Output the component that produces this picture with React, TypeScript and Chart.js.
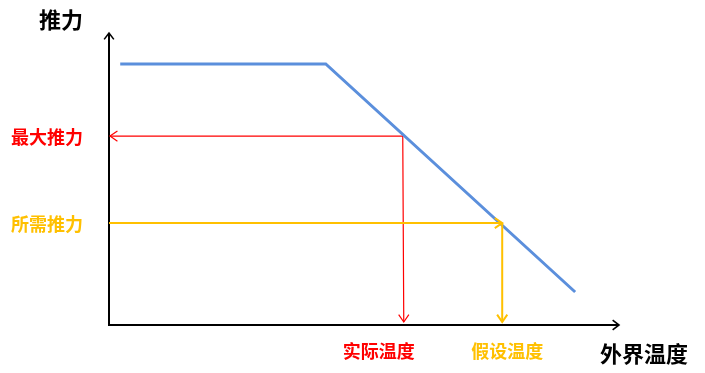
import React, { useEffect, useRef } from "react";
import { Chart, registerables } from "chart.js";

Chart.register(...registerables);

// Thrust curve (temperature → thrust), abstract 0..100 units
const curveTemps = [2.2, 42.5, 91.4];
const curveThrusts = [89.4, 89.4, 11.3];

// Guide values
const maxThrust = 64.7;
const actualTemp = 57.6;
const requiredThrust = 34.9;
const assumedTemp = 77.1;

// Labels
const yAxisTitle = "推力";
const xAxisTitle = "外界温度";
const maxThrustLabel = "最大推力";
const requiredThrustLabel = "所需推力";
const actualTempLabel = "实际温度";
const assumedTempLabel = "假设温度";

const BLUE = "#5B8FDC";
const RED = "#FF0000";
const YELLOW = "#FFC000";
const FONT = '"Noto Sans CJK SC", "Noto Sans", sans-serif';

function arrowHead(ctx: CanvasRenderingContext2D, x: number, y: number, angle: number, len: number, spread: number) {
  // angle: direction the arrow points to
  const a1 = angle + Math.PI - spread;
  const a2 = angle + Math.PI + spread;
  ctx.beginPath();
  ctx.moveTo(x + Math.cos(a1) * len, y + Math.sin(a1) * len);
  ctx.lineTo(x, y);
  ctx.lineTo(x + Math.cos(a2) * len, y + Math.sin(a2) * len);
  ctx.stroke();
}

const diagramPlugin = {
  id: "diagram",
  beforeDatasetsDraw(chart: any) {
    const ctx: CanvasRenderingContext2D = chart.ctx;
    const xs = chart.scales.x;
    const ys = chart.scales.y;
    const x0 = xs.getPixelForValue(0);
    const y0 = ys.getPixelForValue(0);
    const x1 = xs.getPixelForValue(100);
    const y1 = ys.getPixelForValue(100);
    ctx.save();
    ctx.lineCap = "butt";
    // axes
    ctx.strokeStyle = "#000";
    ctx.lineWidth = 2;
    ctx.beginPath();
    ctx.moveTo(x0, y1);
    ctx.lineTo(x0, y0);
    ctx.lineTo(x1, y0);
    ctx.stroke();
    ctx.lineWidth = 1.6;
    arrowHead(ctx, x0, y1, -Math.PI / 2, 8, 0.65);
    arrowHead(ctx, x1, y0, 0, 8, 0.65);

    // red guide
    const rx = xs.getPixelForValue(actualTemp);
    const ry = ys.getPixelForValue(maxThrust);
    ctx.strokeStyle = RED;
    ctx.lineWidth = 1.2;
    ctx.beginPath();
    ctx.moveTo(x0 + 1, ry);
    ctx.lineTo(rx, ry);
    ctx.lineTo(rx + 1, y0 - 3);
    ctx.stroke();
    arrowHead(ctx, x0 + 1, ry, Math.PI, 9, 0.6);
    arrowHead(ctx, rx + 1, y0 - 3, Math.PI / 2, 9, 0.6);
    ctx.restore();
  },
  afterDatasetsDraw(chart: any) {
    const ctx: CanvasRenderingContext2D = chart.ctx;
    const xs = chart.scales.x;
    const ys = chart.scales.y;
    const x0 = xs.getPixelForValue(0);
    const y0 = ys.getPixelForValue(0);
    const y1 = ys.getPixelForValue(100);
    ctx.save();
    // yellow guide
    const yx = xs.getPixelForValue(assumedTemp);
    const yy = ys.getPixelForValue(requiredThrust);
    ctx.strokeStyle = YELLOW;
    ctx.lineWidth = 2;
    ctx.beginPath();
    ctx.moveTo(x0, yy);
    ctx.lineTo(yx, yy);
    ctx.moveTo(yx, yy);
    ctx.lineTo(yx, y0 - 3);
    ctx.stroke();
    arrowHead(ctx, yx, yy, 0, 9, 0.6);
    arrowHead(ctx, yx, y0 - 3, Math.PI / 2, 9, 0.6);

    // labels
    ctx.textBaseline = "middle";
    ctx.fillStyle = "#000";
    ctx.font = `bold 22px ${FONT}`;
    ctx.textAlign = "right";
    ctx.fillText(yAxisTitle, x0 - 26, y1 - 13);

    ctx.font = `bold 18px ${FONT}`;
    ctx.fillStyle = RED;
    ctx.fillText(maxThrustLabel, x0 - 26, ys.getPixelForValue(maxThrust) + 1);
    ctx.fillStyle = YELLOW;
    ctx.fillText(requiredThrustLabel, x0 - 26, yy + 1);

    ctx.textAlign = "center";
    ctx.fillStyle = RED;
    ctx.fillText(actualTempLabel, xs.getPixelForValue(actualTemp) - 24, y0 + 26);
    ctx.fillStyle = YELLOW;
    ctx.fillText(assumedTempLabel, yx + 5, y0 + 26);

    ctx.fillStyle = "#000";
    ctx.font = `bold 22px ${FONT}`;
    ctx.textAlign = "left";
    ctx.fillText(xAxisTitle, 600, y0 + 29);
    ctx.restore();
  },
};

export default function App() {
  const ref = useRef<HTMLCanvasElement | null>(null);
  useEffect(() => {
    if (!ref.current) return;
    const chart = new Chart(ref.current, {
      type: "scatter",
      data: {
        datasets: [
          {
            data: curveTemps.map((t, i) => ({ x: t, y: curveThrusts[i] })),
            showLine: true,
            borderColor: BLUE,
            backgroundColor: BLUE,
            borderWidth: 3,
            pointRadius: 0,
            tension: 0,
          },
        ],
      },
      options: {
        responsive: false,
        animation: false,
        events: [],
        layout: { padding: { left: 109, top: 33, right: 86, bottom: 48 } },
        plugins: { legend: { display: false }, tooltip: { enabled: false } },
        scales: {
          x: { type: "linear", min: 0, max: 100, display: false },
          y: { type: "linear", min: 0, max: 100, display: false },
        },
      },
      plugins: [diagramPlugin],
    });
    return () => chart.destroy();
  }, []);
  return (
    <div style={{ position: "fixed", left: 0, top: 0, width: 705, height: 373, background: "#fff" }}>
      <canvas ref={ref} width={705} height={373} style={{ display: "block" }} />
    </div>
  );
}
